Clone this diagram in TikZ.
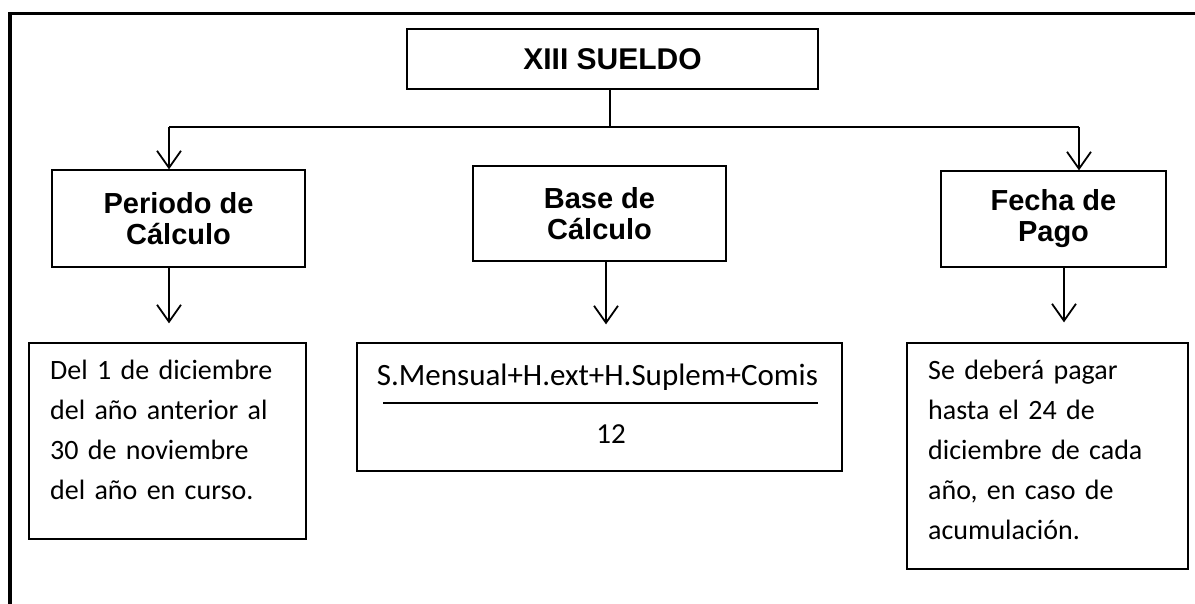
\documentclass[tikz,border=0pt]{standalone}
\usepackage{fontspec}
\setmainfont{Carlito}
\newfontfamily\arialfont{Liberation Sans}
\usetikzlibrary{arrows.meta}

\begin{document}
\begin{tikzpicture}[x=1pt, y=-1pt,
    caja/.style={draw, line width=1.3pt, inner sep=0pt},
    titulo/.style={caja, align=center, font=\arialfont\bfseries\fontsize{29}{31}\selectfont},
    texto/.style={inner sep=0pt, anchor=north west, align=left, text width=260pt, font=\fontsize{28}{40}\selectfont},
    linea/.style={line width=1.8pt},
    flecha/.style={linea, -{Straight Barb[length=17pt, width=24pt]}}]

    \useasboundingbox (0,0) rectangle (1195,604);
    \draw[line width=3.5pt] (10,604) -- (10,13.5) -- (1195,13.5);

    \node[titulo, minimum width=411pt, minimum height=60pt, font=\arialfont\bfseries\fontsize{30}{33}\selectfont] (sueldo) at (612.5,59) {XIII SUELDO};
    \node[titulo, minimum width=253pt, minimum height=97pt] (periodo) at (178.5,218.5) {Periodo de\\Cálculo};
    \node[titulo, minimum width=253pt, minimum height=95pt] (base) at (599.5,213.5) {Base de\\Cálculo};
    \node[titulo, minimum width=225pt, minimum height=96pt] (fecha) at (1053.5,219) {Fecha de\\Pago};

    \node[caja, minimum width=277pt, minimum height=196pt] (del) at (167.5,441) {};
    \node[caja, minimum width=485pt, minimum height=128pt] (formula) at (599.5,407) {};
    \node[caja, minimum width=281pt, minimum height=226pt] (pago) at (1047.5,456) {};

    \node[texto] (deltexto) at (50,360) {Del 1 de diciembre\\del año anterior al\\30 de noviembre\\del año en curso.};
    \node[texto] (pagotexto) at (928,360) {Se deberá pagar\\hasta el 24 de\\diciembre de cada\\año, en caso de\\acumulación.};
    \node[inner sep=0pt, anchor=base, font=\fontsize{31}{34}\selectfont] (numerador) at (597.5,385) {S.Mensual+H.ext+H.Suplem+Comis};
    \node[inner sep=0pt, anchor=base, font=\fontsize{29}{34}\selectfont] (divisor) at (611,443) {12};
    \draw[line width=1.5pt] (383,403) -- (818,403);

    \coordinate (izq) at (169,127);
    \coordinate (der) at (1079,127);
    \draw[linea] (izq) -- (der);
    \draw[linea] ([xshift=-2.5pt]sueldo.south) -- ([xshift=-2.5pt]sueldo.south |- izq);
    \draw[flecha] (izq) -- (izq |- periodo.north);
    \draw[flecha] (der) -- (der |- fecha.north);
    \draw[flecha, shorten >=19pt] (izq |- periodo.south) -- (izq |- del.north);
    \draw[flecha, shorten >=18pt] ([xshift=6.5pt]base.south) -- ([xshift=6.5pt]base.south |- formula.north);
    \draw[flecha, shorten >=20pt] ([xshift=10.5pt]fecha.south) -- ([xshift=10.5pt]fecha.south |- pago.north);
\end{tikzpicture}
\end{document}
